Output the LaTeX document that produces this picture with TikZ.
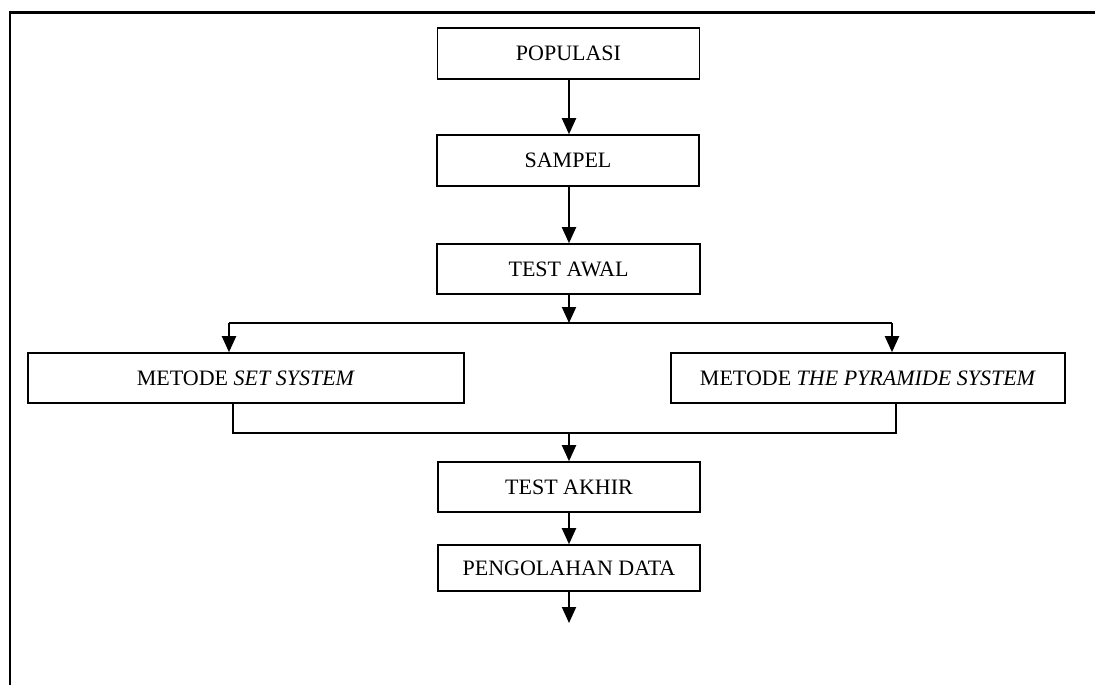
\documentclass[tikz,border=0pt]{standalone}
\usepackage{fontspec}
\setmainfont{Liberation Serif}
\usetikzlibrary{arrows.meta}

\tikzset{
  stagebox/.style={rectangle, draw, line width=1.6pt, inner sep=0pt, minimum height=50pt, text centered, font=\fontsize{22}{26}\selectfont},
  flow/.style={-{Triangle[length=16pt,width=14pt]}, line width=2pt},
  joint/.style={line width=2pt}
}

\begin{document}
\begin{tikzpicture}[x=1pt, y=-1pt]
  \useasboundingbox (0,0) rectangle (1095,685);

  % Outer frame (only top and left edges visible)
  \draw[line width=2.4pt] (10,685) -- (10,12.5) -- (1095,12.5);

  % Main column
  \node[stagebox, minimum width=262pt, minimum height=51pt] (populasi) at (568.5,53.5) {POPULASI};
  \node[stagebox, minimum width=262pt, minimum height=51pt] (sampel) at (568,160.5) {SAMPEL};
  \node[stagebox, minimum width=263pt] (awal) at (568.5,269) {TEST AWAL};

  % Two methods
  \node[stagebox, minimum width=436pt] (setsys) at (246,378) {METODE \textit{SET SYSTEM}};
  \node[stagebox, minimum width=394pt] (pyramid) at (868,378) {METODE \textit{THE PYRAMIDE SYSTEM}};

  % Lower column
  \node[stagebox, minimum width=262pt] (akhir) at (569,487) {TEST AKHIR};
  \node[stagebox, minimum width=262pt, minimum height=46pt] (olah) at (569,568) {PENGOLAHAN DATA};

  % Split and join points
  \coordinate (split) at (569,323);
  \coordinate (splitL) at (229,323);
  \coordinate (splitR) at (892,323);
  \coordinate (join) at (569,433);
  \coordinate (joinL) at (233,433);
  \coordinate (joinR) at (896,433);
  \coordinate (finish) at (569,623);

  % Arrows
  \draw[flow] (populasi.south -| split) -- (sampel.north -| split);
  \draw[flow] (sampel.south -| split) -- (awal.north -| split);
  \draw[flow] (awal.south -| split) -- (split);
  \draw[joint] (splitL) -- (splitR);
  \draw[flow] (splitL) -- (splitL |- setsys.north);
  \draw[flow] (splitR) -- (splitR |- pyramid.north);
  \draw[joint] (joinL |- setsys.south) -- (joinL) -- (joinR) -- (joinR |- pyramid.south);
  \draw[flow] (join) -- (akhir.north);
  \draw[flow] (akhir.south) -- (olah.north);
  \draw[flow] (olah.south) -- (finish);
\end{tikzpicture}
\end{document}
